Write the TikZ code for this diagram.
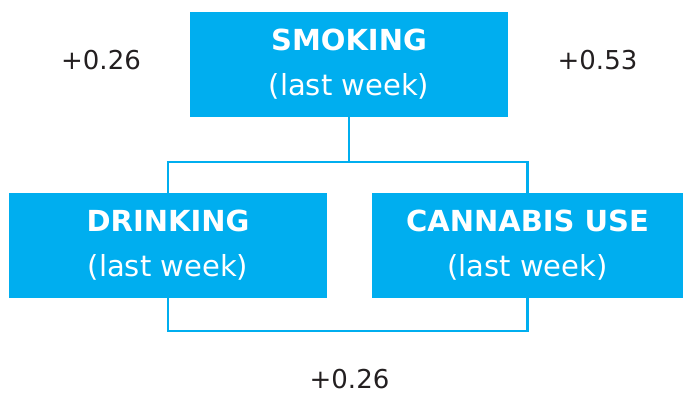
\documentclass[tikz,border=0pt]{standalone}
\usepackage{fontspec}
\setmainfont{DejaVu Sans}
\definecolor{boxcyan}{HTML}{00AEEF}
\definecolor{numgray}{HTML}{231F20}
\tikzset{
  catbox/.style={fill=boxcyan, draw=none, text=white, align=center, inner sep=0pt,
    minimum height=105pt, font=\fontsize{29}{45}\selectfont},
  link/.style={draw=boxcyan, line width=2.2pt},
  coef/.style={text=numgray, inner sep=0pt, anchor=base, text depth=0pt, font=\fontsize{26}{30}\selectfont}
}
\begin{document}
\begin{tikzpicture}[x=1pt,y=-1pt]
\useasboundingbox (0,0) rectangle (684,396);
\node[catbox, minimum width=318pt] (smoking) at (349,64.5) {{\bfseries SMOKING}\\(last week)};
\node[catbox, minimum width=318pt] (drinking) at (168,245.5) {{\bfseries DRINKING}\\(last week)};
\node[catbox, minimum width=311pt] (cannabis) at (527.5,245.5) {{\bfseries CANNABIS USE}\\(last week)};
\coordinate (junction) at (349,162);
\coordinate (bottomline) at (349,331);
\draw[link] (smoking.south) -- (junction);
\draw[link] (drinking.north) -- (drinking.north |- junction) -- (cannabis.north |- junction) -- (cannabis.north);
\draw[link] (drinking.south) -- (drinking.south |- bottomline) -- (cannabis.south |- bottomline) -- (cannabis.south);
\node[coef] (c1) at (101,70) {+0.26};
\node[coef] (c2) at (597.5,70) {+0.53};
\node[coef] (c3) at (349.5,388) {+0.26};
\end{tikzpicture}
\end{document}
